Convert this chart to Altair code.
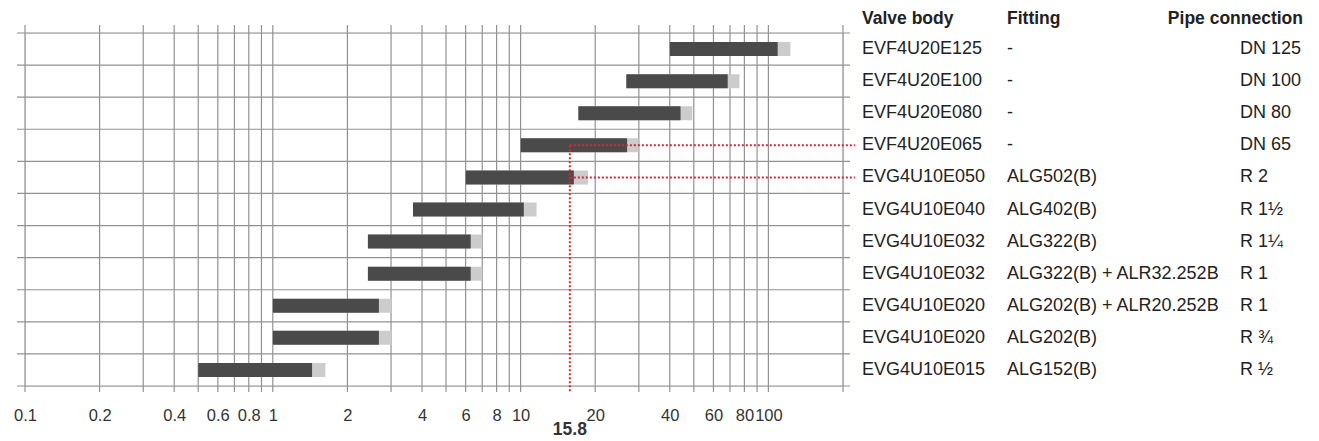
import altair as alt
import pandas as pd

valve_body = ["EVF4U20E125", "EVF4U20E100", "EVF4U20E080", "EVF4U20E065",
              "EVG4U10E050", "EVG4U10E040", "EVG4U10E032", "EVG4U10E032",
              "EVG4U10E020", "EVG4U10E020", "EVG4U10E015"]
fitting = ["-", "-", "-", "-", "ALG502(B)", "ALG402(B)", "ALG322(B)",
           "ALG322(B) + ALR32.252B", "ALG202(B) + ALR20.252B", "ALG202(B)", "ALG152(B)"]
pipe = ["DN 125", "DN 100", "DN 80", "DN 65", "R 2", "R 1½", "R 1¼", "R 1", "R 1", "R ¾", "R ½"]
bar_start = [40, 26.7, 17.1, 10, 6.0, 3.68, 2.42, 2.42, 1.0, 1.0, 0.5]
bar_end = [109, 68.5, 44.2, 26.9, 16.4, 10.3, 6.29, 6.29, 2.68, 2.68, 1.44]
bar_max = [122.7, 76.4, 49.3, 29.9, 18.7, 11.6, 7.0, 7.0, 3.01, 3.01, 1.63]

grid_x = [0.1, 0.2, 0.3, 0.4, 0.5, 0.6, 0.7, 0.8, 0.9,
          1, 2, 3, 4, 5, 6, 7, 8, 9,
          10, 20, 30, 40, 50, 60, 70, 80, 90, 100, 200]
tick_labels = [0.1, 0.2, 0.4, 0.6, 0.8, 1, 2, 4, 6, 8, 10, 20, 40, 60, 80, 100]
marker_value = 15.8
marker_rows = [3, 4]
headers = ["Valve body", "Fitting", "Pipe connection"]

W, H = 818, 353
FONT = "Liberation Sans"

rows = pd.DataFrame({
    "row": [i + 0.5 for i in range(len(valve_body))],
    "valve": valve_body, "fitting": fitting, "pipe": pipe,
    "start": bar_start, "end": bar_end, "max": bar_max,
})
hlines = pd.DataFrame({"y": list(range(len(valve_body) + 1))})
vlines = pd.DataFrame({"x": grid_x})

xs = alt.Scale(type="log", domain=[0.1, 200])
ys = alt.Scale(domain=[0, 11], reverse=True)
xaxis = alt.Axis(values=tick_labels, format="~g", grid=False, ticks=False, domain=False,
                 title=None, labelFontSize=16.5, labelFont=FONT, labelColor="#333333",
                 labelPadding=21, labelFlush=False, labelOverlap=False)

base = alt.Chart(rows)

vgrid = alt.Chart(vlines).mark_rule(color="#929292", strokeWidth=1.2).encode(
    x=alt.X("x:Q", scale=xs, axis=xaxis),
    y=alt.value(-8), y2=alt.value(H + 6))
hgrid = alt.Chart(hlines).mark_rule(color="#929292", strokeWidth=1.2).encode(
    y=alt.Y("y:Q", scale=ys, axis=None),
    x=alt.value(-8), x2=alt.value(W + 7))

light = base.mark_rule(color="#cccccc", strokeWidth=14, strokeCap="butt").encode(
    x=alt.X("start:Q", scale=xs), x2="max:Q", y=alt.Y("row:Q", scale=ys))
dark = base.mark_rule(color="#4a4a4a", strokeWidth=14, strokeCap="butt").encode(
    x=alt.X("start:Q", scale=xs), x2="end:Q", y=alt.Y("row:Q", scale=ys))

mk = pd.DataFrame({"x": [marker_value] * len(marker_rows),
                   "row": [r + 0.5 for r in marker_rows]})
red_h = alt.Chart(mk).mark_rule(color="#d7263d", strokeWidth=2, strokeDash=[2, 2]).encode(
    x=alt.X("x:Q", scale=xs), x2=alt.value(830), y=alt.Y("row:Q", scale=ys))
red_v = alt.Chart(mk.iloc[[0]]).mark_rule(color="#d7263d", strokeWidth=2, strokeDash=[2, 2]).encode(
    x=alt.X("x:Q", scale=xs), y=alt.Y("row:Q", scale=ys), y2=alt.value(H + 6))
red_lbl = alt.Chart(mk.iloc[[0]]).mark_text(font=FONT, fontSize=17.5, fontWeight="bold",
                                            color="#333333", baseline="middle").encode(
    x=alt.X("x:Q", scale=xs), y=alt.value(H + 44), text=alt.Text("x:Q", format=".1f"))

def col(field, xpos, align="left"):
    return base.mark_text(font=FONT, fontSize=18, color="#222222", align=align,
                          baseline="middle").encode(
        x=alt.value(xpos), y=alt.Y("row:Q", scale=ys), text=f"{field}:N")

t1 = col("valve", 837)
t2 = col("fitting", 982)
t3 = col("pipe", 1215)

hdr = pd.DataFrame({"h": headers, "xp": [837, 982, 1278]})
h1 = alt.Chart(hdr.iloc[[0, 1]]).mark_text(font=FONT, fontSize=17.5, fontWeight="bold",
                                           color="#222222", align="left", baseline="middle").encode(
    x=alt.X("xp:Q", scale=None), y=alt.value(-14), text="h:N")
h2 = alt.Chart(hdr.iloc[[2]]).mark_text(font=FONT, fontSize=17.5, fontWeight="bold",
                                        color="#222222", align="right", baseline="middle").encode(
    x=alt.X("xp:Q", scale=None), y=alt.value(-14), text="h:N")

chart = alt.layer(vgrid, hgrid, light, dark, red_h, red_v, red_lbl, t1, t2, t3, h1, h2).properties(
    width=W, height=H,
    autosize=alt.AutoSizeParams(type="none"),
    padding={"left": 17, "top": 25, "right": 468, "bottom": 56},
).configure_view(stroke=None).configure(background="white")

chart.save("out.html", embed_options={"renderer": "svg", "actions": False})
